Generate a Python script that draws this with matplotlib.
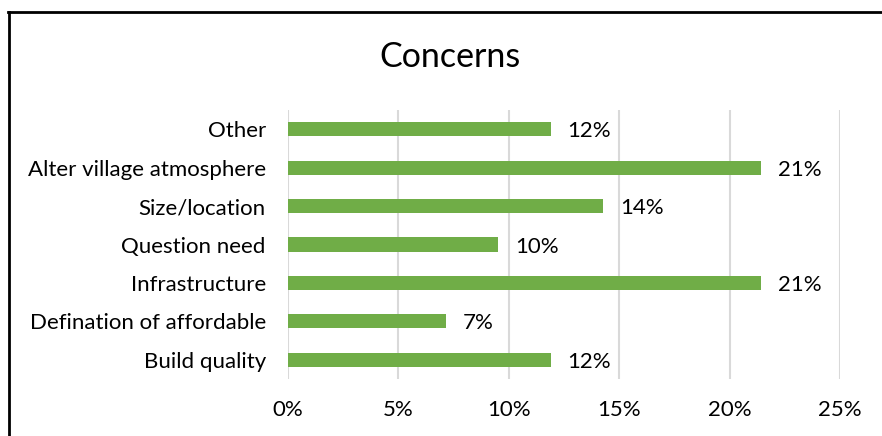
import matplotlib.pyplot as plt
from matplotlib.lines import Line2D
from matplotlib.ticker import PercentFormatter

# Share of responses per concern (bottom to top)
categories = [
    'Build quality',
    'Defination of affordable',
    'Infrastructure',
    'Question need',
    'Size/location',
    'Alter village atmosphere',
    'Other',
]
counts = [5, 3, 9, 4, 6, 9, 5]
total_responses = 42
shares = [c / total_responses for c in counts]

x_ticks = [0, 0.05, 0.10, 0.15, 0.20, 0.25]

plt.rcParams['font.family'] = ['Lato', 'DejaVu Sans']

W, H = 882, 436
fig = plt.figure(figsize=(W / 100, H / 100), dpi=100)
ax = fig.add_axes([288 / W, 1 - 379 / H, (840 - 288) / W, (379 - 110) / H])

ypos = range(len(categories))
ax.barh(ypos, shares, height=0.365, color='#70AD47', zorder=3)

for y, v in zip(ypos, shares):
    ax.annotate(f'{v:.0%}', (v, y), xytext=(12, -1.5), textcoords='offset points',
                ha='left', va='center', fontsize=16, color='#000000')

ax.set_xlim(0, 0.25)
ax.set_ylim(-0.5, len(categories) - 0.5)
ax.set_xticks(x_ticks)
ax.xaxis.set_major_formatter(PercentFormatter(1.0, decimals=0))
ax.set_yticks(list(ypos))
ax.set_yticklabels(categories)
ax.tick_params(axis='both', length=0, labelsize=16, colors='#000000')
ax.tick_params(axis='y', pad=16)
ax.tick_params(axis='x', pad=15)
ax.grid(axis='x', color='#d9d9d9', linewidth=1.5, zorder=0)
for s in ax.spines.values():
    s.set_visible(False)

fig.text(450 / W, 1 - 57 / H, 'Concerns', ha='center', va='center',
         fontsize=24.5, color='#000000')

# Chart frame (left and top edges)
fig.add_artist(Line2D([9 / W, 9 / W], [0, 1 - 12 / H], transform=fig.transFigure,
                      color='black', linewidth=2))
fig.add_artist(Line2D([8 / W, 1], [1 - 12 / H, 1 - 12 / H], transform=fig.transFigure,
                      color='black', linewidth=2))

fig.savefig('out.png', dpi=100, facecolor='white')
